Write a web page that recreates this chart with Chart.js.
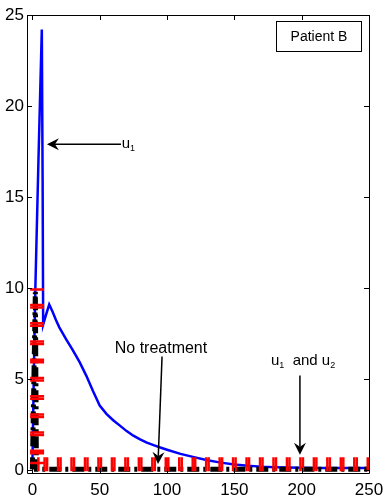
<!DOCTYPE html>
<html>
<head>
<meta charset="utf-8">
<script src="https://cdn.jsdelivr.net/npm/chart.js@4/dist/chart.umd.min.js"></script>
<style>
html,body{margin:0;padding:0;background:#fff;}
#wrap{width:392px;height:500px;position:relative;}
</style>
</head>
<body>
<div id="wrap"><canvas id="c" width="392" height="500"></canvas></div>
<script>
// ---- data ----
const xTicks = [0, 50, 100, 150, 200, 250];
const yTicks = [0, 5, 10, 15, 20, 25];

// blue solid curve
const blueX = [0, 1, 2.2, 4.5, 7.0, 7.6, 8.0, 10, 12.5, 15, 17.5, 20, 25, 30, 35, 40, 45, 50, 55, 60, 65, 70, 75, 80, 85, 90, 95, 100, 110, 120, 130, 140, 150, 160, 170, 180, 190, 200, 210, 220, 230, 240, 250];
const blueY = [0.2, 5, 10, 17, 24.2, 16, 8.0, 8.5, 9.1, 8.7, 8.25, 7.85, 7.2, 6.6, 5.95, 5.2, 4.35, 3.55, 3.1, 2.75, 2.45, 2.15, 1.9, 1.7, 1.52, 1.38, 1.25, 1.13, 0.9, 0.72, 0.55, 0.42, 0.32, 0.25, 0.2, 0.17, 0.15, 0.14, 0.13, 0.13, 0.13, 0.13, 0.13];

// black dash-dot curve
const blackX = [0, 2.2, 3.0, 250];
const blackY = [0.05, 9.8, 0.05, 0.05];

// red thick dashed curve
const redX = [3.5, 3.5, 3.5, 3.5, 3.5, 3.5, 3.5, 3.5, 3.5, 3.5, 3.5, 10, 20, 30, 40, 50, 60, 70, 80, 90, 100, 110, 120, 130, 140, 150, 160, 170, 180, 190, 200, 210, 220, 230, 240, 250];
const redY = [10, 9, 8, 7, 6, 5, 4, 3, 2, 1, 0.33, 0.33, 0.33, 0.33, 0.33, 0.33, 0.33, 0.33, 0.33, 0.33, 0.33, 0.33, 0.33, 0.33, 0.33, 0.33, 0.33, 0.33, 0.33, 0.33, 0.33, 0.33, 0.33, 0.33, 0.33, 0.33];

const panelLabel = 'Patient B';
const noTreatLabel = 'No treatment';

const toPts = (xs, ys) => xs.map((x, i) => ({x: x, y: ys[i]}));
const FONT = '"Liberation Sans", Arial, Helvetica, sans-serif';

const framePlugin = {
  id: 'frame',
  afterDraw(chart) {
    const ctx = chart.ctx, a = chart.chartArea;
    const xs = chart.scales.x, ys = chart.scales.y;
    ctx.save();
    ctx.strokeStyle = '#000';
    ctx.lineWidth = 1;
    ctx.beginPath();
    ctx.rect(Math.round(a.left) + 0.5, Math.round(a.top) + 0.5, Math.round(a.right - a.left), Math.round(a.bottom - a.top));
    ctx.stroke();
    // inward ticks on all four sides
    ctx.beginPath();
    const tl = 5;
    xTicks.forEach(v => {
      const p = Math.round(xs.getPixelForValue(v)) + 0.5;
      ctx.moveTo(p, a.bottom); ctx.lineTo(p, a.bottom - tl);
      ctx.moveTo(p, a.top); ctx.lineTo(p, a.top + tl);
    });
    yTicks.forEach(v => {
      const p = Math.round(ys.getPixelForValue(v)) + 0.5;
      ctx.moveTo(a.left, p); ctx.lineTo(a.left + tl, p);
      ctx.moveTo(a.right, p); ctx.lineTo(a.right - tl, p);
    });
    ctx.stroke();

    // arrows
    const arrow = (x0, y0, x1, y1) => {
      const X0 = xs.getPixelForValue(x0), Y0 = ys.getPixelForValue(y0);
      const X1 = xs.getPixelForValue(x1), Y1 = ys.getPixelForValue(y1);
      const ang = Math.atan2(Y1 - Y0, X1 - X0);
      const L = 12, W = 6, back = 8;
      const bx = X1 - back * Math.cos(ang), by = Y1 - back * Math.sin(ang);
      ctx.strokeStyle = '#000'; ctx.lineWidth = 1.5;
      ctx.beginPath(); ctx.moveTo(X0, Y0); ctx.lineTo(bx, by); ctx.stroke();
      ctx.fillStyle = '#000';
      ctx.beginPath();
      ctx.moveTo(X1, Y1);
      ctx.lineTo(X1 - L * Math.cos(ang) + W * Math.sin(ang), Y1 - L * Math.sin(ang) - W * Math.cos(ang));
      ctx.lineTo(bx, by);
      ctx.lineTo(X1 - L * Math.cos(ang) - W * Math.sin(ang), Y1 - L * Math.sin(ang) + W * Math.cos(ang));
      ctx.closePath();
      ctx.fill();
    };
    arrow(65.8, 17.9, 10.8, 17.9);
    arrow(96.3, 6.25, 93.3, 0.35);
    arrow(198.7, 5.2, 198.7, 0.85);

    // texts
    ctx.fillStyle = '#000';
    ctx.textBaseline = 'alphabetic';
    ctx.textAlign = 'left';
    const big = '15px ' + FONT, small = '9px ' + FONT;
    const subText = (parts, x, y) => {
      let cx = x;
      parts.forEach(([t, sub]) => {
        ctx.font = sub ? small : big;
        ctx.fillText(t, cx, sub ? y + 3 : y);
        cx += ctx.measureText(t).width;
      });
    };
    subText([['u', false], ['1', true]], xs.getPixelForValue(66.3), ys.getPixelForValue(17.9) + 4);
    ctx.font = '16px ' + FONT;
    ctx.textAlign = 'center';
    ctx.fillText(noTreatLabel, xs.getPixelForValue(95.5), ys.getPixelForValue(6.45));
    ctx.textAlign = 'left';
    subText([['u', false], ['1', true], ['  and ', false], ['u', false], ['2', true]], xs.getPixelForValue(177.2), ys.getPixelForValue(5.8));

    // Patient B box
    const bx0 = a.right - 93, by0 = a.top + 6, bw = 85, bh = 30;
    ctx.fillStyle = '#fff';
    ctx.fillRect(bx0, by0, bw, bh);
    ctx.strokeStyle = '#000'; ctx.lineWidth = 1;
    ctx.strokeRect(Math.round(bx0) + 0.5, Math.round(by0) + 0.5, bw, bh);
    ctx.fillStyle = '#000';
    ctx.font = '14px ' + FONT;
    ctx.textAlign = 'center';
    ctx.textBaseline = 'middle';
    ctx.fillText(panelLabel, bx0 + bw / 2 + 0.5, by0 + bh / 2 + 1);
    ctx.restore();
  }
};

new Chart(document.getElementById('c'), {
  type: 'line',
  data: {
    datasets: [
      {
        label: 'u1 and u2',
        data: toPts(redX, redY),
        borderColor: '#ff0000',
        borderWidth: 14,
        borderCapStyle: 'butt',
        pointRadius: 0,
        tension: 0,
        segment: {
          borderDash: c => {
            const len = Math.hypot(c.p1.x - c.p0.x, c.p1.y - c.p0.y);
            return [2.5, Math.max(len - 5, 0.01), 2.5, 2000];
          },
          borderDashOffset: c => (c.p0DataIndex % 2 ? 0 : 0.0001)
        }
      },
      {
        label: 'No treatment',
        data: toPts(blackX, blackY),
        borderColor: '#000',
        borderWidth: 5,
        borderDash: [12, 4, 3, 4],
        borderCapStyle: 'butt',
        pointRadius: 0,
        tension: 0
      },
      {
        label: 'u1',
        data: toPts(blueX, blueY),
        borderColor: '#0000ff',
        borderWidth: 2.5,
        pointRadius: 0,
        tension: 0
      }
    ]
  },
  options: {
    responsive: false,
    animation: false,
    layout: {padding: {top: 15, right: 23, left: 0, bottom: 0}},
    plugins: {legend: {display: false}, tooltip: {enabled: false}},
    scales: {
      x: {
        type: 'linear',
        min: -4, max: 250,
        grid: {display: false, drawTicks: false},
        border: {display: false},
        afterBuildTicks: s => { s.ticks = xTicks.map(v => ({value: v})); },
        afterFit: s => { s.height = 27; },
        ticks: {color: '#000', padding: 7, maxRotation: 0, autoSkip: false, font: {family: FONT, size: 17}}
      },
      y: {
        type: 'linear',
        min: -0.15, max: 25,
        grid: {display: false, drawTicks: false},
        border: {display: false},
        afterBuildTicks: s => { s.ticks = yTicks.map(v => ({value: v})); },
        afterFit: s => { s.width = 27; },
        ticks: {color: '#000', padding: 3, autoSkip: false, font: {family: FONT, size: 17}}
      }
    }
  },
  plugins: [framePlugin]
});
</script>
</body>
</html>
